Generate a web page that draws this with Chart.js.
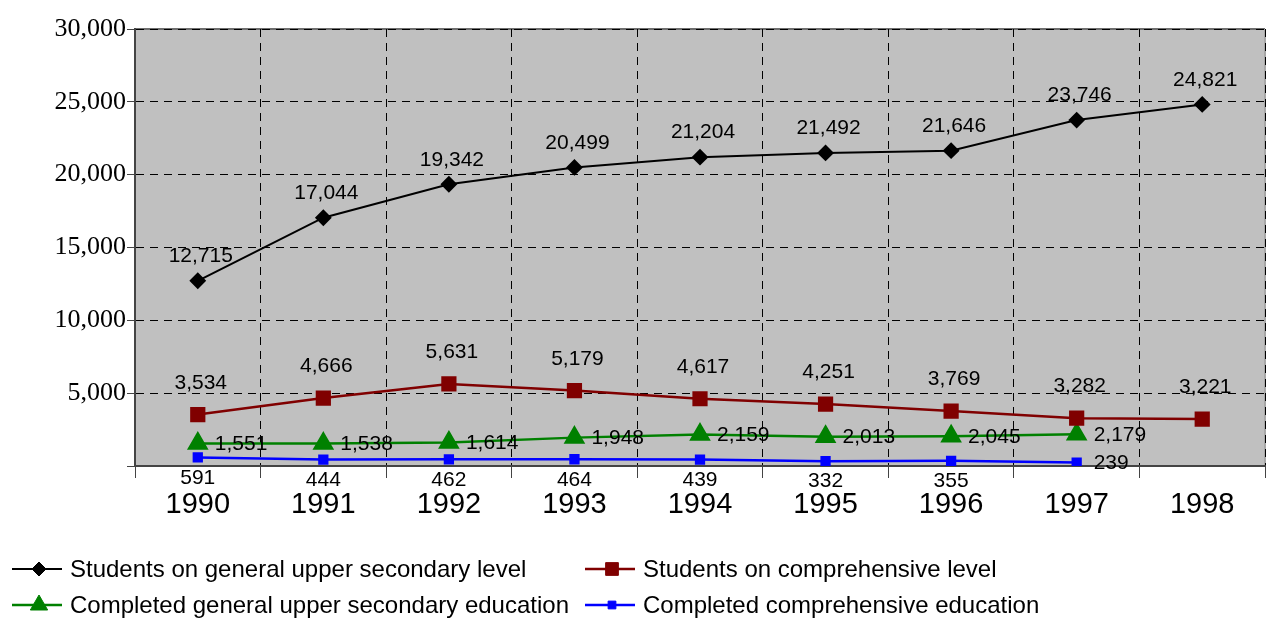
<!DOCTYPE html>
<html>
<head>
<meta charset="utf-8">
<script src="https://cdn.jsdelivr.net/npm/chart.js@4/dist/chart.umd.min.js"></script>
<style>
  html, body { margin: 0; padding: 0; background: #fff; }
  #wrap { width: 1279px; height: 619px; position: relative; }
</style>
</head>
<body>
<div id="wrap"><canvas id="chart"></canvas></div>
<script>
// data
let years = ["1990", "1991", "1992", "1993", "1994", "1995", "1996", "1997", "1998"];
let studentsUpper = [12715, 17044, 19342, 20499, 21204, 21492, 21646, 23746, 24821];
let studentsComp = [3534, 4666, 5631, 5179, 4617, 4251, 3769, 3282, 3221];
let completedUpper = [1551, 1538, 1614, 1948, 2159, 2013, 2045, 2179, null];
let completedComp = [591, 444, 462, 464, 439, 332, 355, 239, null];
let yTicks = [0, 5000, 10000, 15000, 20000, 25000, 30000];

let seriesNames = [
    "Students on general upper secondary level",
    "Students on comprehensive level",
    "Completed general upper secondary education",
    "Completed comprehensive education"
];

function fmt(v) {
    return v.toLocaleString("en-US");
}

// grey plot background
let plotBg = {
    id: "plotBg",
    beforeDraw: function(chart) {
        let a = chart.chartArea, ctx = chart.ctx;
        ctx.save();
        ctx.fillStyle = "#c0c0c0";
        ctx.fillRect(a.left, a.top, a.right - a.left, a.bottom - a.top);
        ctx.strokeStyle = "#6e6e6e";
        ctx.lineWidth = 2;
        ctx.beginPath();
        ctx.moveTo(a.left, a.top);
        ctx.lineTo(a.right, a.top);
        ctx.stroke();
        ctx.strokeStyle = "#a8a8a8";
        ctx.beginPath();
        ctx.moveTo(a.right, a.top);
        ctx.lineTo(a.right, a.bottom);
        ctx.stroke();
        ctx.restore();
    }
};

// value labels next to each point
let valueLabels = {
    id: "valueLabels",
    afterDatasetsDraw: function(chart) {
        let ctx = chart.ctx;
        let where = ["top", "top", "right", "bottom"];
        let lift = [14, 21, 0, 0];
        ctx.save();
        ctx.font = "21px 'Liberation Sans', Arial, sans-serif";
        ctx.fillStyle = "#000";
        chart.data.datasets.forEach(function(ds, i) {
            let meta = chart.getDatasetMeta(i);
            meta.data.forEach(function(pt, j) {
                let v = ds.data[j];
                if (v === null || v === undefined) return;
                let pos = where[i];
                if (i === 3 && j === 7) pos = "right";
                let txt = fmt(v);
                if (pos === "top") {
                    ctx.textAlign = "center";
                    ctx.textBaseline = "bottom";
                    ctx.fillText(txt, pt.x + 3, pt.y - lift[i]);
                } else if (pos === "right") {
                    ctx.textAlign = "left";
                    ctx.textBaseline = "middle";
                    ctx.fillText(txt, pt.x + 17, pt.y + 1);
                } else {
                    ctx.textAlign = "center";
                    ctx.textBaseline = "top";
                    ctx.fillText(txt, pt.x, pt.y + 10);
                }
            });
        });
        ctx.restore();
    }
};

// two-column legend at the bottom
let bottomLegend = {
    id: "bottomLegend",
    afterDraw: function(chart) {
        let ctx = chart.ctx;
        let spots = [[12, 569], [585, 569], [12, 605], [585, 605]];
        ctx.save();
        chart.data.datasets.forEach(function(ds, i) {
            let x = spots[i][0], y = spots[i][1];
            ctx.strokeStyle = ds.borderColor;
            ctx.lineWidth = ds.borderWidth;
            ctx.beginPath();
            ctx.moveTo(x, y);
            ctx.lineTo(x + 50, y);
            ctx.stroke();
            ctx.fillStyle = ds.pointBackgroundColor;
            ctx.strokeStyle = ds.pointBorderColor;
            ctx.lineWidth = 1;
            Chart.helpers.drawPoint(ctx, {
                pointStyle: ds.pointStyle,
                radius: ds.pointRadius,
                rotation: 0,
                borderWidth: 1
            }, x + 27, y);
            ctx.fillStyle = "#000";
            ctx.font = "24px 'Liberation Sans', Arial, sans-serif";
            ctx.textAlign = "left";
            ctx.textBaseline = "middle";
            ctx.fillText(seriesNames[i], x + 58, y + 1);
        });
        ctx.restore();
    }
};

let ctx = document.getElementById("chart").getContext("2d");
new Chart(ctx, {
    type: "line",
    data: {
        labels: years,
        datasets: [{
            label: seriesNames[0],
            data: studentsUpper,
            borderColor: "#000000",
            borderWidth: 2,
            pointStyle: "rectRot",
            pointRadius: 7,
            pointHoverRadius: 7,
            pointBackgroundColor: "#000000",
            pointBorderColor: "#000000",
            tension: 0
        }, {
            label: seriesNames[1],
            data: studentsComp,
            borderColor: "#800000",
            borderWidth: 2.5,
            pointStyle: "rect",
            pointRadius: 9,
            pointHoverRadius: 9,
            pointBackgroundColor: "#800000",
            pointBorderColor: "#800000",
            tension: 0
        }, {
            label: seriesNames[2],
            data: completedUpper,
            borderColor: "#008000",
            borderWidth: 2.5,
            pointStyle: "triangle",
            pointRadius: 10,
            pointHoverRadius: 10,
            pointBackgroundColor: "#008000",
            pointBorderColor: "#008000",
            tension: 0
        }, {
            label: seriesNames[3],
            data: completedComp,
            borderColor: "#0000ff",
            borderWidth: 2.5,
            pointStyle: "rect",
            pointRadius: 5.5,
            pointHoverRadius: 5.5,
            pointBackgroundColor: "#0000ff",
            pointBorderColor: "#0000ff",
            tension: 0
        }]
    },
    options: {
        responsive: true,
        maintainAspectRatio: false,
        animation: false,
        layout: { padding: { top: 29, right: 14, left: 0, bottom: 0 } },
        plugins: {
            legend: { display: false },
            tooltip: { enabled: false }
        },
        scales: {
            x: {
                offset: true,
                grid: {
                    offset: true,
                    color: "#000",
                    lineWidth: 1,
                    tickLength: 12,
                    tickColor: "#444"
                },
                border: { color: "#444", width: 2, dash: [8, 6] },
                ticks: {
                    color: "#000",
                    padding: 10,
                    font: { family: "'Liberation Sans', Arial, sans-serif", size: 29 }
                },
                afterFit: function(scale) { scale.height = 153; }
            },
            y: {
                min: yTicks[0],
                max: yTicks[yTicks.length - 1],
                afterBuildTicks: function(scale) {
                    scale.ticks = yTicks.map(function(v) { return { value: v }; });
                },
                grid: {
                    color: "#000",
                    lineWidth: 1,
                    tickLength: 8,
                    tickColor: "#444"
                },
                border: { color: "#444", width: 2, dash: [8, 6] },
                ticks: {
                    color: "#000",
                    padding: 1,
                    font: { family: "'Liberation Serif', 'Times New Roman', serif", size: 26 },
                    callback: function(v) { return v === 0 ? "" : fmt(v); }
                },
                afterFit: function(scale) { scale.width = 135; }
            }
        }
    },
    plugins: [plotBg, valueLabels, bottomLegend]
});
</script>
</body>
</html>
